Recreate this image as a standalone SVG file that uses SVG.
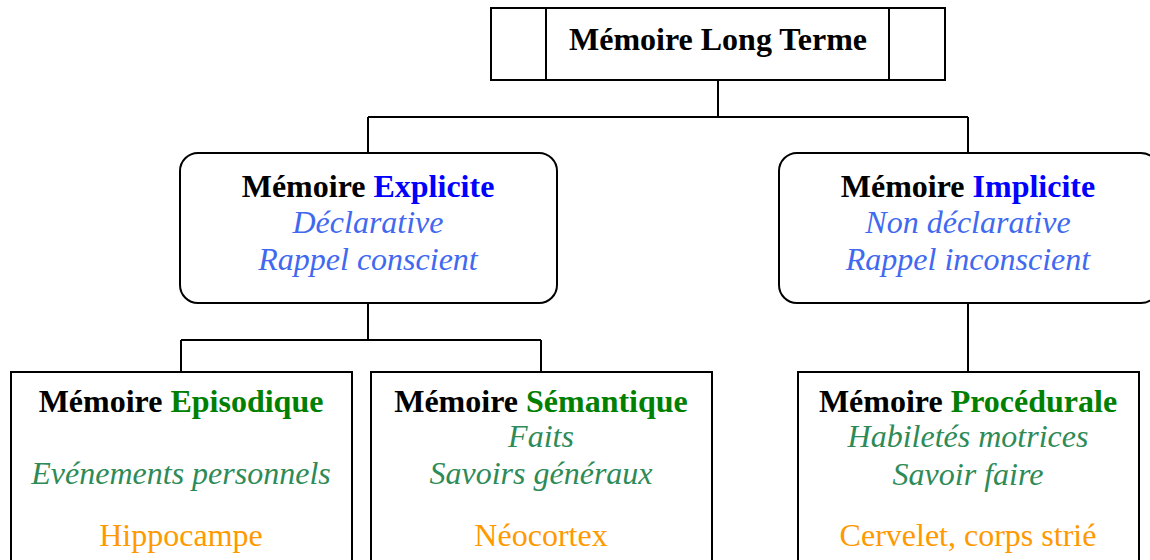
<svg xmlns="http://www.w3.org/2000/svg" width="1150" height="560" viewBox="0 0 1150 560">
<style>
.box{fill:#fff;stroke:#000;stroke-width:2}
.ln{fill:none;stroke:#000;stroke-width:2}
text{font-family:"Liberation Serif","Times New Roman",serif;font-size:32px;text-anchor:middle}
.b{font-weight:bold;fill:#000}
.blue{fill:#0000ff}
.green{fill:#008000}
.ib{font-style:italic;fill:#4169f0}
.ig{font-style:italic;fill:#2e8b57}
.or{fill:#ff9900}
</style>
<rect width="1150" height="560" fill="#fff"/>
<g id="connectors">
<path class="ln" d="M718 80V117M368 117H968M368 117V153M968 117V153"/>
<path class="ln" d="M368 303V340M181 340H541M181 340V372M541 340V372"/>
<path class="ln" d="M968 303V372"/>
</g>
<g id="ltm">
<rect class="box" x="491" y="8" width="454" height="72"/>
<path class="ln" d="M546 8V80M889 8V80"/>
<text x="718" y="50" class="b">Mémoire Long Terme</text>
</g>
<g id="explicit">
<rect class="box" x="180" y="153" width="377" height="150" rx="18"/>
<text x="368" y="197" class="b">Mémoire <tspan class="blue">Explicite</tspan></text>
<text x="368" y="233" class="ib">Déclarative</text>
<text x="368" y="270" class="ib">Rappel conscient</text>
</g>
<g id="implicit">
<rect class="box" x="779" y="153" width="380" height="150" rx="18"/>
<text x="968" y="197" class="b">Mémoire <tspan class="blue">Implicite</tspan></text>
<text x="968" y="233" class="ib">Non déclarative</text>
<text x="968" y="270" class="ib">Rappel inconscient</text>
</g>
<g id="episodic">
<rect class="box" x="11" y="372" width="341" height="210"/>
<text x="181" y="412" class="b">Mémoire <tspan class="green">Episodique</tspan></text>
<text x="181" y="484" class="ig">Evénements personnels</text>
<text x="181" y="546" class="or">Hippocampe</text>
</g>
<g id="semantic">
<rect class="box" x="371" y="372" width="341" height="210"/>
<text x="541" y="412" class="b">Mémoire <tspan class="green">Sémantique</tspan></text>
<text x="541" y="447" class="ig">Faits</text>
<text x="541" y="484" class="ig">Savoirs généraux</text>
<text x="541" y="546" class="or">Néocortex</text>
</g>
<g id="procedural">
<rect class="box" x="798" y="372" width="341" height="210"/>
<text x="968" y="412" class="b">Mémoire <tspan class="green">Procédurale</tspan></text>
<text x="968" y="447" class="ig">Habiletés motrices</text>
<text x="968" y="485" class="ig">Savoir faire</text>
<text x="968" y="546" class="or">Cervelet, corps strié</text>
</g>
</svg>
